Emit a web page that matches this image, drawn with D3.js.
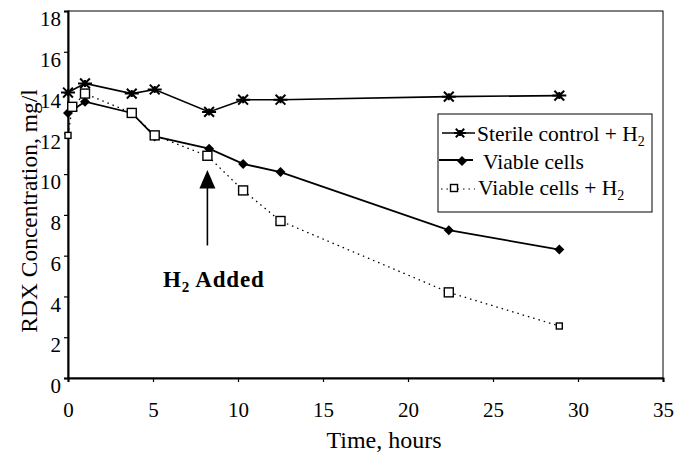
<!DOCTYPE html>
<html>
<head>
<meta charset="utf-8">
<script src="https://cdn.jsdelivr.net/npm/d3@7"></script>
<style>
  body { margin: 0; background: #fff; }
  text { font-family: "Liberation Serif", "Times New Roman", serif; }
</style>
</head>
<body>
<svg width="677" height="453"></svg>
<script>
var svg = d3.select('svg');

// data
var sterileTime = [0, 1, 3.75, 5.1, 8.3, 10.3, 12.5, 22.4, 28.9];
var sterileConc = [14.0, 14.45, 13.95, 14.15, 13.05, 13.65, 13.65, 13.8, 13.85];

var viableTime = [0, 1, 3.75, 5.1, 8.3, 10.3, 12.5, 22.4, 28.9];
var viableConc = [13.0, 13.55, 13.0, 11.85, 11.25, 10.5, 10.1, 7.25, 6.3];

var viableH2Time = [0, 0.25, 1, 3.75, 5.1, 8.2, 10.3, 12.5, 22.4, 28.9];
var viableH2Conc = [11.9, 13.3, 13.95, 13.0, 11.9, 10.9, 9.2, 7.7, 4.2, 2.55];

var xTicks = [0, 5, 10, 15, 20, 25, 30, 35];
var yTicks = [0, 2, 4, 6, 8, 10, 12, 14, 16, 18];

var x = d3.scaleLinear().domain([0, 35]).range([68, 663]);
var y = d3.scaleLinear().domain([0, 18]).range([378, 11]);

function pts(t, c) {
  return t.map(function(d, i) { return {t: d, c: c[i]}; });
}

var line = d3.line()
  .x(function(d) { return x(d.t); })
  .y(function(d) { return y(d.c); });

// frame
svg.append('rect')
  .attr('x', x(0)).attr('y', y(18))
  .attr('width', x(35) - x(0)).attr('height', y(0) - y(18))
  .attr('fill', 'none').attr('stroke', '#000').attr('stroke-width', 1);

var xAxis = svg.append('g')
  .attr('transform', 'translate(0,' + y(0) + ')')
  .call(d3.axisBottom(x).tickValues(xTicks).tickSize(4).tickPadding(20));
var yAxis = svg.append('g')
  .attr('transform', 'translate(' + x(0) + ',0)')
  .call(d3.axisLeft(y).tickValues(yTicks).tickSize(4).tickPadding(3));

[xAxis, yAxis].forEach(function(a) {
  a.select('.domain').attr('stroke', '#000').attr('stroke-width', 2);
  a.selectAll('.tick line').attr('stroke', '#000').attr('stroke-width', 1.2);
  a.selectAll('.tick text').attr('fill', '#000')
    .style('font-family', '"Liberation Serif", serif').style('font-size', '21px');
});
yAxis.selectAll('.tick text').attr('dy', '0.7em');

// series lines
svg.append('path').datum(pts(sterileTime, sterileConc))
  .attr('d', line).attr('fill', 'none').attr('stroke', '#000').attr('stroke-width', 1.6);
svg.append('path').datum(pts(viableTime, viableConc))
  .attr('d', line).attr('fill', 'none').attr('stroke', '#000').attr('stroke-width', 1.8);
svg.append('path').datum(pts(viableH2Time, viableH2Conc))
  .attr('d', line).attr('fill', 'none').attr('stroke', '#000').attr('stroke-width', 1.3)
  .attr('stroke-dasharray', '1.5,4');

// markers
function star(g, cx, cy, s) {
  g.append('path')
    .attr('d', 'M' + (cx - s) + ',' + cy + 'H' + (cx + s) +
      'M' + (cx - s * 0.7) + ',' + (cy - s * 0.7) + 'L' + (cx + s * 0.7) + ',' + (cy + s * 0.7) +
      'M' + (cx - s * 0.7) + ',' + (cy + s * 0.7) + 'L' + (cx + s * 0.7) + ',' + (cy - s * 0.7) +
      'M' + cx + ',' + (cy - s * 0.5) + 'V' + (cy + s * 0.5))
    .attr('stroke', '#000').attr('stroke-width', 2).attr('fill', 'none');
}
function diamond(g, cx, cy) {
  g.append('path')
    .attr('d', 'M' + cx + ',' + (cy - 5) + 'L' + (cx + 5) + ',' + cy + 'L' + cx + ',' + (cy + 5) + 'L' + (cx - 5) + ',' + cy + 'Z')
    .attr('fill', '#000');
}
function square(g, cx, cy, s) {
  g.append('rect').attr('x', cx - s / 2).attr('y', cy - s / 2)
    .attr('width', s).attr('height', s)
    .attr('fill', '#fff').attr('stroke', '#000').attr('stroke-width', 1.4);
}

var marks = svg.append('g');
pts(sterileTime, sterileConc).forEach(function(d) { star(marks, x(d.t), y(d.c), 7); });
pts(viableTime, viableConc).forEach(function(d) { diamond(marks, x(d.t), y(d.c)); });
pts(viableH2Time, viableH2Conc).forEach(function(d, i) {
  square(marks, x(d.t), y(d.c), (i === 0 || i === viableH2Time.length - 1) ? 6 : 9);
});

// arrow annotation
var ax = x(8.2);
svg.append('line').attr('x1', ax).attr('x2', ax).attr('y1', y(6.5)).attr('y2', y(9.5))
  .attr('stroke', '#000').attr('stroke-width', 1.6);
svg.append('path')
  .attr('d', 'M' + ax + ',' + y(10.2) + 'L' + (ax + 8) + ',' + y(9.3) + 'L' + (ax - 8) + ',' + y(9.3) + 'Z')
  .attr('fill', '#000');
var lab = svg.append('text').attr('x', 163).attr('y', 287)
  .style('font-size', '23px').style('font-weight', 'bold').style('letter-spacing', '0.8px');
lab.append('tspan').text('H');
lab.append('tspan').attr('dy', 5).style('font-size', '15px').text('2');
lab.append('tspan').attr('dy', -5).text(' Added');

// legend
var lg = svg.append('g');
lg.append('rect').attr('x', 438).attr('y', 114).attr('width', 214).attr('height', 98)
  .attr('fill', '#fff').attr('stroke', '#000').attr('stroke-width', 1);
var rows = [
  {y: 141, label: 'Sterile control + ', sub: true, tx: 477},
  {y: 169, label: 'Viable cells', sub: false, tx: 483},
  {y: 195, label: 'Viable cells + ', sub: true, tx: 478}
];
lg.append('line').attr('x1', 442).attr('x2', 475).attr('y1', 133).attr('y2', 133).attr('stroke', '#000').attr('stroke-width', 1.3);
star(lg, 460, 133, 6);
lg.append('line').attr('x1', 439).attr('x2', 473).attr('y1', 160).attr('y2', 160).attr('stroke', '#000').attr('stroke-width', 1.8);
diamond(lg, 462, 161);
lg.append('line').attr('x1', 441).attr('x2', 475).attr('y1', 189).attr('y2', 189).attr('stroke', '#000').attr('stroke-width', 1.2).attr('stroke-dasharray', '1.5,4');
square(lg, 454, 188, 7);
rows.forEach(function(r) {
  var t = lg.append('text').attr('x', r.tx).attr('y', r.y).style('font-size', '21.5px');
  t.append('tspan').text(r.label);
  if (r.sub) {
    t.append('tspan').text('H');
    t.append('tspan').attr('dy', 5).style('font-size', '14px').text('2');
  }
});

// axis titles
svg.append('text').attr('x', 384).attr('y', 448).attr('text-anchor', 'middle')
  .style('font-size', '24px').text('Time, hours');
svg.append('text').attr('transform', 'translate(37,211) rotate(-90)').attr('text-anchor', 'middle')
  .style('font-size', '23.5px').text('RDX Concentration, mg/l');
</script>
</body>
</html>
